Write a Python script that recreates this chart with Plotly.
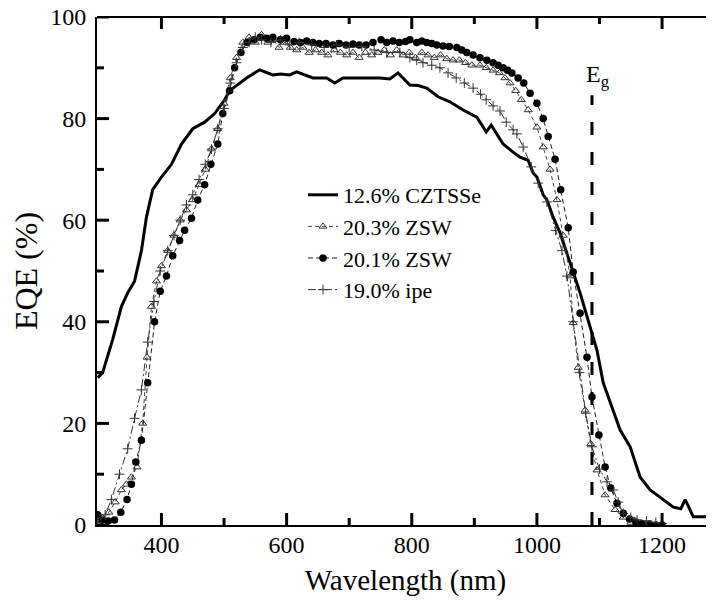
import plotly.graph_objects as go

# ---- data ----
czt_wl = [298, 306, 322, 336, 346, 357, 368, 376, 386, 400, 416, 432, 450, 469, 485, 501, 509, 536, 557, 568,
          578, 590, 605, 616, 630, 642, 664, 677, 690, 706, 728, 749, 765, 778, 797, 810, 824, 842, 861, 882,
          904, 919, 927, 946, 962, 973, 986, 994, 1000, 1010, 1016, 1026, 1037, 1053, 1069, 1085, 1096, 1106,
          1112, 1133, 1149, 1165, 1181, 1197, 1218, 1230, 1237, 1250, 1290]
czt_eqe = [29, 30, 36.5, 43, 45.7, 48, 54, 60.6, 66, 68.5, 71, 75, 78, 79.3, 81, 83.7, 85.5, 88, 89.6, 89,
           88.6, 88.8, 88.6, 89.2, 88.5, 88, 88, 87, 88, 88, 88, 88, 87.8, 89, 86.6, 86.5, 86, 84.3, 83.3, 81.7,
           80.3, 77.4, 78.7, 75, 73.4, 72.4, 71.8, 69.3, 68.5, 65, 64, 60.6, 57.5, 51.6, 45.7, 39, 34.4, 28,
           26, 18.7, 15.4, 9.4, 6.9, 5.5, 3.5, 3.2, 5, 1.6, 1.6]

zsw201_wl = [298, 305, 315, 325, 335, 345, 352, 359, 368, 378, 389, 398, 408, 418, 429, 437, 448, 458, 469, 479,
             490, 498, 509, 517, 527, 537, 548, 558, 568, 578, 590, 600, 612, 622, 632, 642, 652, 663, 674, 684,
             695, 706, 716, 727, 738, 751, 760, 770, 780, 790, 797, 808, 816, 824, 832, 840, 850, 860, 872, 880,
             888, 898, 909, 920, 930, 938, 946, 953, 960, 970, 979, 989, 1000, 1010, 1018, 1029, 1038, 1050, 1058,
             1069, 1080, 1088, 1099, 1109, 1118, 1128, 1138, 1148, 1158, 1168, 1180, 1190, 1200]
zsw201_eqe = [2, 1, 0.8, 1, 2.5, 5, 8, 12.4, 16.7, 28, 40, 46, 49, 53, 56, 58, 60.4, 64, 67, 71,
              75, 81, 85.5, 90, 93, 95, 95.5, 96, 95.8, 96, 95.5, 95.8, 95.2, 95, 95.3, 95, 94.8, 94.8, 94.5, 94.8,
              94.5, 94.7, 94.5, 94.5, 95, 95.5, 95, 95.3, 95, 95.2, 95.5, 95, 95.3, 95, 94.8, 94.5, 94.3, 94.2, 94, 93.5,
              93, 92.5, 92, 91.5, 91, 90.5, 90, 89.5, 89, 88, 87, 85, 83, 80, 76.5, 72, 66, 58.5, 49.8,
              41.7, 33, 25.2, 17.7, 11.4, 7.3, 4.3, 2.3, 1.2, 0.6, 0.3, 0.2, 0, 0]

zsw203_wl = [298, 306, 316, 326, 336, 344, 352, 361, 370, 377, 384, 392, 400, 410, 420, 430, 440, 450, 460, 470,
             480, 490, 500, 510, 520, 530, 540, 550, 560, 570, 578, 588, 597, 606, 616, 626, 636, 646, 656, 666,
             676, 686, 696, 706, 716, 726, 736, 746, 756, 766, 776, 786, 796, 806, 816, 826, 836, 846, 856, 866,
             876, 886, 896, 909, 919, 930, 940, 949, 957, 966, 975, 986, 1000, 1010, 1021, 1032, 1042, 1053, 1058,
             1066, 1077, 1086, 1096, 1109, 1125, 1138, 1150, 1165]
zsw203_eqe = [0.5, 1.4, 2.5, 4.5, 6.9, 8, 9.4, 11.4, 20, 33, 43, 48, 51, 54, 57, 60, 62, 64, 67, 70,
              74, 78, 83, 88, 92, 95, 96, 95, 96.5, 95, 95.5, 94, 95, 94, 93.5, 94, 93, 93.5, 93, 92.5,
              93.5, 93, 92.5, 93, 92, 93, 92.5, 93, 93.5, 92.5, 93.5, 92.5, 93, 92, 93, 92.5, 92, 92.5, 91.8, 91.5,
              91.5, 91, 90.5, 90.5, 90, 89.5, 89, 88, 87, 85.5, 83.7, 81.7, 78.3, 74.4, 70, 64, 57, 49, 39.8,
              31, 22.6, 16, 10.8, 5.9, 3, 1.5, 0.5, 0]

ipe_wl = [298, 310, 320, 333, 346, 357, 368, 378, 388, 398, 410, 420, 430, 440, 450, 460, 470, 480, 490, 500,
          510, 520, 530, 540, 550, 560, 575, 590, 605, 620, 640, 660, 680, 700, 720, 740, 760, 781, 797, 808,
          818, 832, 845, 858, 871, 884, 898, 910, 919, 930, 941, 951, 962, 968, 978, 991, 1002, 1016, 1030, 1040,
          1048, 1058, 1068, 1078, 1088, 1100, 1112, 1122, 1130, 1138, 1150, 1160, 1175, 1190, 1200]
ipe_eqe = [0.5, 2, 5, 10, 15, 21, 26.6, 36, 44, 50, 54, 57, 60, 63, 65, 68, 71, 74, 78, 82,
           87, 91, 94, 95, 96, 95.5, 95, 95.5, 94.5, 95, 94.5, 94, 94.5, 94, 94.2, 93.5, 93, 93, 92, 91.5,
           91, 90.5, 90, 89, 88, 87, 86, 84.8, 83.7, 82.5, 81.5, 79.3, 77.8, 77, 74.4, 70.5, 67.3, 63.6, 58, 54,
           49, 40, 30, 22, 15.4, 11, 8.5, 6.9, 4.5, 2.3, 1.5, 1, 0.8, 0.5, 0.3]

eg_wl = [1088, 1088]
eg_eqe = [0, 84.6]

series_names = ["12.6% CZTSSe", "20.3% ZSW", "20.1% ZSW", "19.0% ipe"]
x_ticks = [400, 600, 800, 1000, 1200]
x_minor_ticks = [500, 700, 900, 1100]
y_ticks = [0, 20, 40, 60, 80, 100]
y_minor_ticks = [10, 30, 50, 70, 90]
right_ticks = [20, 40, 60, 80]

FONT = "Liberation Serif, 'Times New Roman', Times, serif"
# page body has an 8px margin, so the figure is drawn at (8, 8)
W, H = 706, 592
L, R, T, B = 89, 0, 9, 75
PW, PH = W - L - R, H - T - B
PLOT_LEFT_PAGE, PLOT_BOTTOM_PAGE = 8 + L, 8 + T + PH
MAJ, MIN = 12, 7

fig = go.Figure()
fig.add_trace(go.Scatter(x=czt_wl, y=czt_eqe, mode="lines", name=series_names[0],
                         line=dict(color="black", width=3)))
fig.add_trace(go.Scatter(x=zsw203_wl, y=zsw203_eqe, mode="lines+markers", name=series_names[1],
                         line=dict(color="#444", width=1, dash="4px,3px"),
                         marker=dict(symbol="triangle-up-open", size=7, color="#333",
                                     line=dict(width=1, color="#333"))))
fig.add_trace(go.Scatter(x=zsw201_wl, y=zsw201_eqe, mode="lines+markers", name=series_names[2],
                         line=dict(color="#222", width=1, dash="5px,3px"),
                         marker=dict(symbol="circle", size=7.5, color="black")))
fig.add_trace(go.Scatter(x=ipe_wl, y=ipe_eqe, mode="lines+markers", name=series_names[3],
                         line=dict(color="#333", width=1, dash="8px,3px,2px,3px"),
                         marker=dict(symbol="cross-thin-open", size=7,
                                     line=dict(width=1, color="#333"))))
fig.add_trace(go.Scatter(x=eg_wl, y=eg_eqe, mode="lines", showlegend=False,
                         line=dict(color="black", width=3, dash="13px,17px")))

fig.add_annotation(x=eg_wl[0], y=eg_eqe[1], xref="x", yref="y", text="E<sub>g</sub>",
                   showarrow=False, xanchor="left", yanchor="bottom", xshift=-8, yshift=2,
                   font=dict(family=FONT, size=24, color="black"))

# frame: top line, and inward ticks on all four sides (drawn as shapes)
fig.add_shape(type="line", xref="paper", yref="paper", x0=0, x1=1, y0=1, y1=1,
              line=dict(color="black", width=2), layer="above")
for vals, ln in ((x_ticks, MAJ), (x_minor_ticks, MIN)):
    for v in vals:
        fig.add_shape(type="line", xref="x", yref="paper", x0=v, x1=v, y0=1, y1=1 - ln / PH,
                      line=dict(color="black", width=3), layer="above")
        fig.add_shape(type="line", xref="x", yref="paper", x0=v, x1=v, y0=0, y1=ln / PH,
                      line=dict(color="black", width=3), layer="above")
for vals, ln in ((y_ticks, MAJ), (y_minor_ticks, MIN)):
    for v in vals:
        fig.add_shape(type="line", xref="paper", yref="y", x0=0, x1=ln / PW, y0=v, y1=v,
                      line=dict(color="black", width=3), layer="above")
# right-hand frame ticks (the right frame line itself lies just outside the picture)
for v in right_ticks:
    fig.add_shape(type="line", xref="paper", yref="y", x0=1 - 8 / PW, x1=1, y0=v, y1=v,
                  line=dict(color="black", width=3), layer="above")

axis_common = dict(showline=True, linecolor="black", linewidth=2, ticks="inside",
                   ticklen=MAJ, tickwidth=2, tickcolor="black",
                   showgrid=False, zeroline=False,
                   tickfont=dict(family=FONT, size=24, color="black"))

fig.update_layout(
    width=W, height=H,
    margin=dict(l=L, r=R, t=T, b=B, autoexpand=False),
    plot_bgcolor="white", paper_bgcolor="white",
    font=dict(family=FONT, color="black"),
    xaxis=dict(range=[297, 1283], tickmode="array", tickvals=x_ticks, tickangle=0,
               ticklabelstandoff=-3,
               title=dict(text="Wavelength (nm)", font=dict(family=FONT, size=29), standoff=13),
               **axis_common),
    yaxis=dict(range=[0, 100], tickmode="array", tickvals=y_ticks, ticklabelstandoff=4,
               ticklabeloverflow="allow",
               title=dict(text="EQE (%)", font=dict(family=FONT, size=32), standoff=8),
               **axis_common),
    legend=dict(x=(303 - PLOT_LEFT_PAGE) / PW, y=(PLOT_BOTTOM_PAGE - 174) / PH,
                xanchor="left", yanchor="top", bgcolor="rgba(0,0,0,0)",
                font=dict(family=FONT, size=22, color="black"), tracegroupgap=0),
    showlegend=True,
)

fig.write_html("out.html")
